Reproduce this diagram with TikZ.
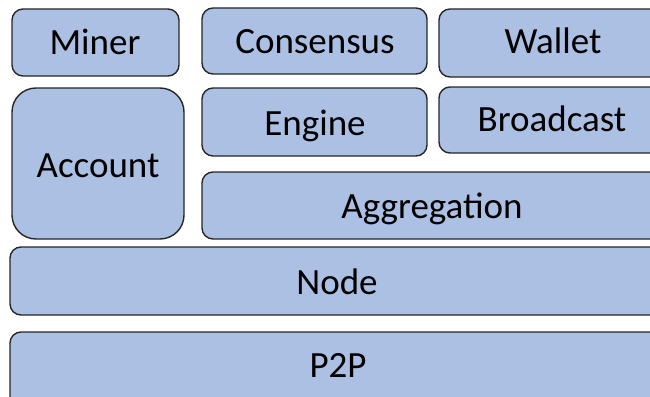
\documentclass[tikz,border=0pt]{standalone}
\usepackage{fontspec}
\setmainfont{Carlito}
\begin{document}
\begin{tikzpicture}[x=1pt,y=-1pt,
  layer/.style={draw=black!85, line width=1.4pt, fill=boxblue},
  lbl/.style={anchor=base, inner sep=0pt, font=\fontsize{37}{40}\selectfont}]
\definecolor{boxblue}{RGB}{172,192,228}
\useasboundingbox (0,0) rectangle (650,396);
\clip (0,0) rectangle (650,396);
% top row
\draw[layer, rounded corners=11pt] (12,9) rectangle (179,76);
\draw[layer, rounded corners=11pt] (202,8) rectangle (427,74);
\draw[layer, rounded corners=11pt] (439,9) rectangle (680,77);
% middle rows
\draw[layer, rounded corners=24pt] (12,88) rectangle (184,239);
\draw[layer, rounded corners=11pt] (202,88) rectangle (427,156);
\draw[layer, rounded corners=11pt] (439,87) rectangle (680,153);
\draw[layer, rounded corners=11pt] (202,172) rectangle (680,239);
% base layers
\draw[layer, rounded corners=11pt] (10,247) rectangle (680,315);
\draw[layer, rounded corners=11pt] (10,332) rectangle (680,420);
% labels
\node[lbl] (miner) at (95,55) {Miner};
\node[lbl] (consensus) at (315,53) {Consensus};
\node[lbl] (wallet) at (553,54) {Wallet};
\node[lbl] (account) at (98,177) {Account};
\node[lbl] (engine) at (315,135) {Engine};
\node[lbl] (broadcast) at (552,131) {Broadcast};
\node[lbl] (aggregation) at (432,218) {Aggregation};
\node[lbl] (nodelayer) at (337,294) {Node};
\node[lbl] (p2p) at (338,377) {P2P};
\end{tikzpicture}
\end{document}
